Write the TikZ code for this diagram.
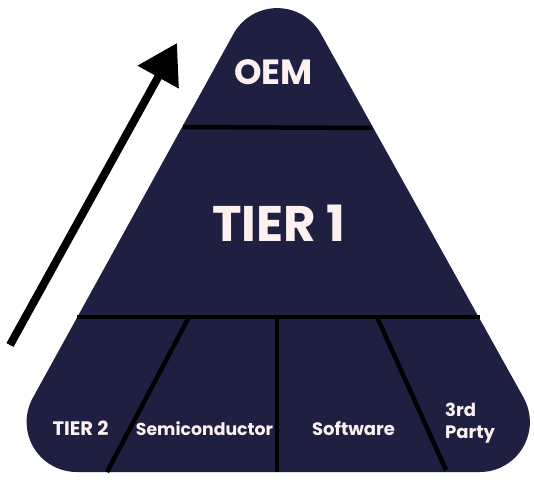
\documentclass[tikz,border=0pt]{standalone}
\usepackage{fontspec}
\setmainfont{Poppins}
\usetikzlibrary{calc,arrows.meta}
\definecolor{navy}{HTML}{1F1F42}
\definecolor{cream}{HTML}{FDF0F0}
\begin{document}
\begin{tikzpicture}[x=1pt,y=1pt,
  sep/.style={line width=4.5pt,black},
  lbl/.style={text=cream,font=\bfseries,inner sep=0pt,anchor=base},
  uparrow/.style={line width=8pt,-{Triangle[length=39pt,width=45pt]}}]
\useasboundingbox (0,0) rectangle (534,481);
% corner circle centres
\coordinate (cA) at (277.2,422.9);
\coordinate (cB) at (76.6,59);
\coordinate (cC) at (479.9,59);
\fill[navy] ($(cA)+(151.13:50pt)$) arc[start angle=151.13,end angle=29.12,radius=50pt]
  -- ($(cC)+(29.12:50pt)$) arc[start angle=29.12,end angle=-90,radius=50pt]
  -- ($(cB)+(-90:50pt)$) arc[start angle=270,end angle=151.13,radius=50pt] -- cycle;
% separators
\coordinate (oemL) at (183,354); \coordinate (oemR) at (372,353);
\coordinate (tL) at (77,164); \coordinate (tR) at (480,164);
\coordinate (d1t) at (189,164); \coordinate (d1b) at (107,9);
\coordinate (d2t) at (277,164); \coordinate (d2b) at (277,9);
\coordinate (d3t) at (377,164); \coordinate (d3b) at (446,11);
\draw[sep] (oemL) -- (oemR);
\draw[sep] (tL) -- (tR);
\draw[sep] (d1t) -- (d1b);
\draw[sep] (d2t) -- (d2b);
\draw[sep] (d3t) -- (d3b);
% labels
\node[lbl,font=\bfseries\fontsize{35}{35}\selectfont] (oem) at (273.5,396) {OEM};
\node[lbl,font=\bfseries\fontsize{50}{50}\selectfont] (tier1) at (279,239) {TIER 1};
\node[lbl,font=\bfseries\fontsize{19.5}{19.5}\selectfont] (tier2) at (80.5,46) {TIER 2};
\node[lbl,font=\bfseries\fontsize{17.3}{17.3}\selectfont] (semi) at (204.5,46) {Semiconductor};
\node[lbl,font=\bfseries\fontsize{18}{18}\selectfont] (soft) at (353.5,46) {Software};
\node[lbl,font=\bfseries\fontsize{18}{18}\selectfont,anchor=base west] (third) at (445,65) {3rd};
\node[lbl,font=\bfseries\fontsize{18}{18}\selectfont,anchor=base west] (party) at (445,43) {Party};
% arrow
\coordinate (arT) at (10,136);
\coordinate (arH) at (177,438);
\draw[uparrow] (arT) -- (arH);
\end{tikzpicture}
\end{document}
